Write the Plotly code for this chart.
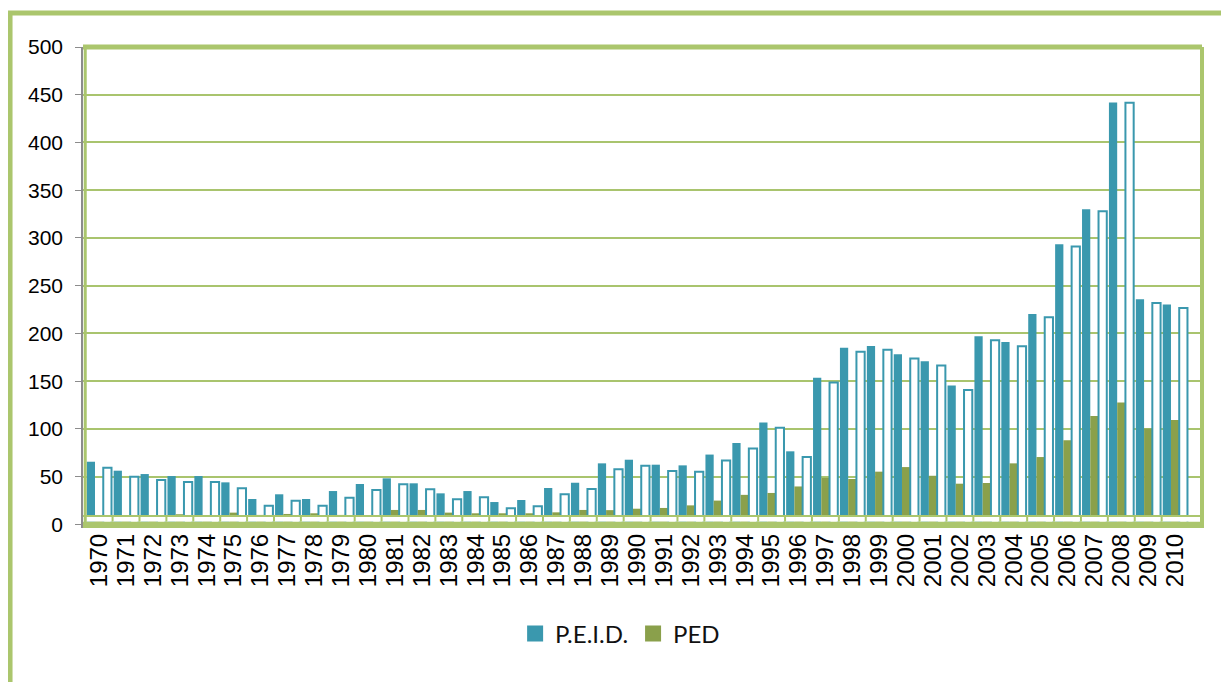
import plotly.graph_objects as go

years = list(range(1970, 2011))
year_labels = [str(y) for y in years]

peid = [65.7, 56.3, 52.8, 50.7, 50.7, 44.1, 26.7, 31.6, 26.7, 35.0,
        42.4, 48.3, 43.1, 32.6, 35.0, 23.5, 25.6, 38.2, 43.7, 64.0,
        67.8, 62.6, 61.9, 73.2, 85.3, 106.7, 76.6, 153.6, 185.0, 187.0,
        178.3, 171.0, 145.6, 197.2, 191.0, 220.5, 293.4, 330.0, 442.0, 235.9,
        230.3]

peid_outline = [59.4, 50.0, 46.5, 44.5, 44.5, 37.9, 19.7, 24.9, 19.7, 28.0,
                36.0, 42.0, 36.8, 26.3, 28.4, 16.9, 19.0, 31.6, 37.1, 57.7,
                61.5, 56.0, 55.3, 67.1, 79.5, 101.3, 70.6, 148.7, 180.8, 182.9,
                173.8, 166.5, 140.7, 193.0, 186.7, 217.0, 291.0, 328.0, 441.6, 232.0,
                226.8]

ped = [9.6, 9.6, 9.0, 10.7, 8.6, 12.4, 10.0, 11.0, 11.7, 10.0,
       9.5, 15.2, 15.2, 12.4, 11.7, 11.7, 11.7, 12.7, 15.2, 15.0,
       16.5, 17.3, 20.0, 25.0, 31.0, 33.0, 39.8, 48.8, 47.6, 55.3,
       60.1, 51.0, 42.7, 43.4, 64.0, 70.6, 88.2, 113.5, 127.6, 100.4,
       109.3]

y_ticks = list(range(0, 501, 50))

TEAL = "#3A98AE"
GREEN = "#8AA04B"
FRAME = "#ABC66D"
GRID = "#A9C46E"

fig = go.Figure()
fig.add_trace(go.Bar(x=years, y=peid, name="P.E.I.D.", showlegend=False,
                     marker=dict(color=TEAL, line=dict(width=0))))
fig.add_trace(go.Bar(x=years, y=ped, name="PED", showlegend=False,
                     marker=dict(color=GREEN, line=dict(width=0))))
fig.add_trace(go.Bar(x=years, y=peid_outline, name="P.E.I.D. ", showlegend=False,
                     marker=dict(color="white", line=dict(color=TEAL, width=2))))
# legend entries (no data)
fig.add_trace(go.Scatter(x=[None], y=[None], mode="markers", name="P.E.I.D.",
                         marker=dict(symbol="square", size=16, color=TEAL)))
fig.add_trace(go.Scatter(x=[None], y=[None], mode="markers", name="PED",
                         marker=dict(symbol="square", size=16, color=GREEN)))

shapes = []
floor_top = 8.9
floor_mid = 2.9
ymin = -3.7
shapes.append(dict(type="rect", xref="paper", yref="y", x0=0, x1=1, y0=floor_mid, y1=floor_top,
                   fillcolor="white", line=dict(width=0), layer="above"))
shapes.append(dict(type="line", xref="paper", yref="y", x0=0, x1=1, y0=floor_top, y1=floor_top,
                   line=dict(color=FRAME, width=2), layer="above"))
shapes.append(dict(type="rect", xref="paper", yref="y", x0=0, x1=1, y0=ymin, y1=floor_mid,
                   fillcolor=FRAME, line=dict(width=0), layer="above"))
for y in years[:-1]:
    shapes.append(dict(type="line", xref="x", yref="y", x0=y + 0.5, x1=y + 0.5, y0=floor_mid, y1=floor_top,
                       line=dict(color=FRAME, width=2), layer="above"))
# plot frame
shapes.append(dict(type="line", xref="paper", yref="paper", x0=0.0, x1=1.0, y0=1, y1=1,
                   line=dict(color=FRAME, width=5), layer="above"))
shapes.append(dict(type="line", xref="paper", yref="paper", x0=1.0, x1=1.0, y0=0, y1=1,
                   line=dict(color=FRAME, width=4), layer="above"))
shapes.append(dict(type="line", xref="paper", yref="paper", x0=0.002, x1=0.002, y0=0, y1=1,
                   line=dict(color=FRAME, width=3), layer="above"))
# outer frame
shapes.append(dict(type="line", xref="paper", yref="paper", x0=-0.067, x1=1.05, y0=1.0708, y1=1.0708,
                   line=dict(color=FRAME, width=5), layer="above"))
shapes.append(dict(type="line", xref="paper", yref="paper", x0=-0.0652, x1=-0.0652, y0=1.0708, y1=-0.35,
                   line=dict(color=FRAME, width=5), layer="above"))

fig.update_layout(
    width=1221, height=674,
    margin=dict(l=75, r=27, t=39, b=154),
    paper_bgcolor="white", plot_bgcolor="white",
    barmode="group", bargap=0.08, bargroupgap=0,
    shapes=shapes,
    showlegend=True,
    legend=dict(orientation="h", x=0.48, xanchor="center", y=-0.22, yanchor="middle",
                font=dict(family="Lato, Carlito, sans-serif", size=24, color="#111"),
                traceorder="normal", itemwidth=30),
    xaxis=dict(range=[1969.4, 2011.0], tickmode="array", tickvals=years, ticktext=year_labels,
               tickangle=-90, showgrid=False, zeroline=False, showline=False, ticks="",
               tickfont=dict(family="Liberation Sans, Arial", size=24, color="black")),
    yaxis=dict(range=[ymin, 500], tickmode="array", tickvals=y_ticks,
               showgrid=True, gridcolor=GRID, gridwidth=2, zeroline=False,
               showline=True, linecolor="#8c8c8c", linewidth=1.5,
               ticks="outside", ticklen=6, tickcolor="#8c8c8c", ticklabelstandoff=8,
               tickfont=dict(family="Liberation Sans, Arial", size=21, color="black")),
)

fig.write_html("out.html")
